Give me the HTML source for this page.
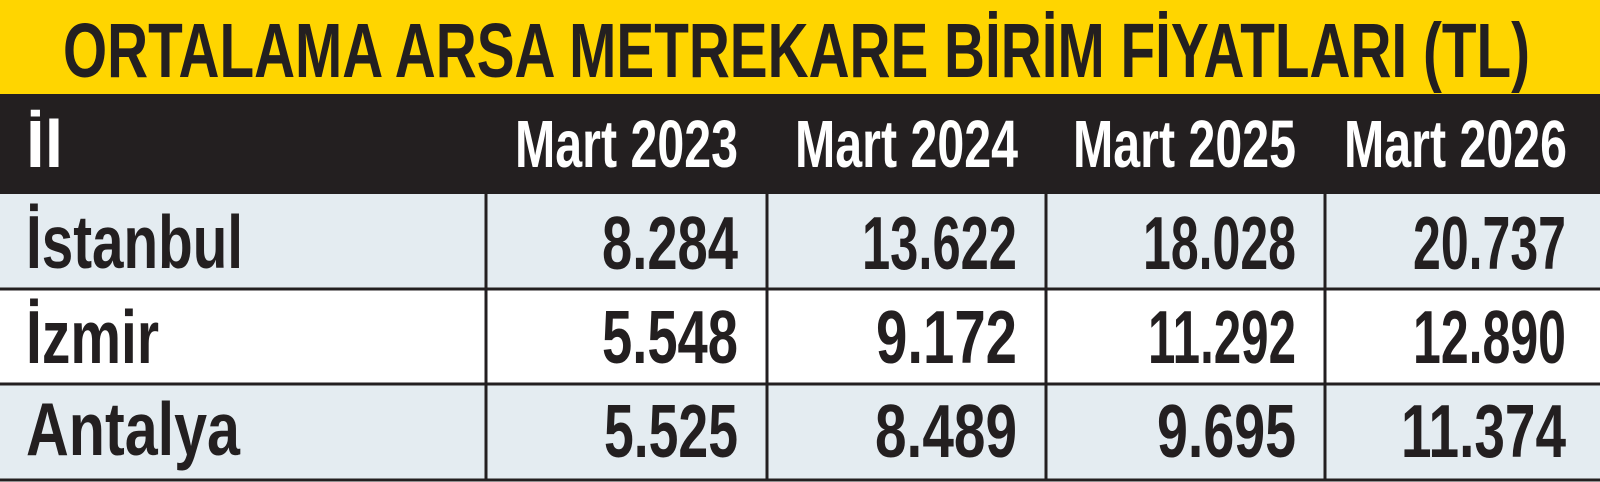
<!DOCTYPE html>
<html><head><meta charset="utf-8"><style>html,body{margin:0;padding:0;background:#fff}svg{display:block}</style></head>
<body>
<svg width="1600" height="482" viewBox="0 0 1600 482" xmlns="http://www.w3.org/2000/svg" font-family="Liberation Sans, DejaVu Sans, sans-serif" font-weight="bold">
<rect x="0" y="0" width="1600" height="94" fill="#FFD500"/>
<rect x="0" y="94" width="1600" height="100" fill="#231F20"/>
<rect x="0" y="194" width="1600" height="95" fill="#E4ECF1"/>
<rect x="0" y="289" width="1600" height="95" fill="#FFFFFF"/>
<rect x="0" y="384" width="1600" height="96" fill="#E4ECF1"/>
<g stroke="#231F20" stroke-width="3">
<line x1="0" y1="289" x2="1600" y2="289"/>
<line x1="0" y1="384" x2="1600" y2="384"/>
<line x1="0" y1="480" x2="1600" y2="480"/>
<line x1="486" y1="194" x2="486" y2="480"/>
<line x1="767" y1="194" x2="767" y2="480"/>
<line x1="1046" y1="194" x2="1046" y2="480"/>
<line x1="1325" y1="194" x2="1325" y2="480"/>
</g>
<text x="63" y="77" font-size="77" fill="#231F20" textLength="1467" lengthAdjust="spacingAndGlyphs">ORTALAMA ARSA METREKARE BİRİM FİYATLARI (TL)</text>
<g fill="#fff" font-size="67">
<text x="26" y="167">İl</text>
<text x="515" y="167" textLength="223" lengthAdjust="spacingAndGlyphs">Mart 2023</text>
<text x="795" y="167" textLength="223" lengthAdjust="spacingAndGlyphs">Mart 2024</text>
<text x="1073" y="167" textLength="223" lengthAdjust="spacingAndGlyphs">Mart 2025</text>
<text x="1344" y="167" textLength="223" lengthAdjust="spacingAndGlyphs">Mart 2026</text>
</g>
<g fill="#231F20" font-size="75">
<text x="26" y="268" textLength="217" lengthAdjust="spacingAndGlyphs">İstanbul</text>
<text x="26" y="363" textLength="133" lengthAdjust="spacingAndGlyphs">İzmir</text>
<text x="26" y="455" textLength="214" lengthAdjust="spacingAndGlyphs">Antalya</text>

<text x="602" y="269" textLength="136" lengthAdjust="spacingAndGlyphs">8.284</text>
<text x="862" y="269" textLength="155" lengthAdjust="spacingAndGlyphs">13.622</text>
<text x="1143" y="269" textLength="153" lengthAdjust="spacingAndGlyphs">18.028</text>
<text x="1413" y="269" textLength="153" lengthAdjust="spacingAndGlyphs">20.737</text>

<text x="602" y="363" textLength="136" lengthAdjust="spacingAndGlyphs">5.548</text>
<text x="876" y="363" textLength="141" lengthAdjust="spacingAndGlyphs">9.172</text>
<text x="1148" y="363" textLength="148" lengthAdjust="spacingAndGlyphs">11.292</text>
<text x="1413" y="363" textLength="153" lengthAdjust="spacingAndGlyphs">12.890</text>

<text x="604" y="457" textLength="134" lengthAdjust="spacingAndGlyphs">5.525</text>
<text x="875" y="457" textLength="142" lengthAdjust="spacingAndGlyphs">8.489</text>
<text x="1157" y="457" textLength="139" lengthAdjust="spacingAndGlyphs">9.695</text>
<text x="1401" y="457" textLength="165" lengthAdjust="spacingAndGlyphs">11.374</text>
</g>
</svg>
</body></html>
